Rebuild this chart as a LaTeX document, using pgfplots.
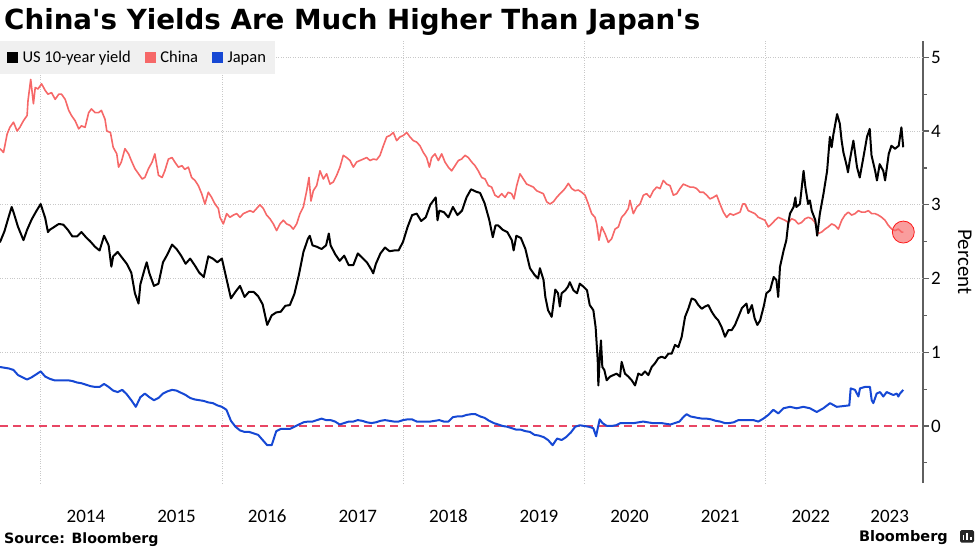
\documentclass[border=0pt]{standalone}
\usepackage{pgfplots}
\pgfplotsset{compat=1.18}
\usepackage{fontspec}
\setmainfont{Carlito}
\newfontfamily\djv{DejaVu Sans}
\definecolor{chinared}{RGB}{246,104,104}
\definecolor{japanblue}{RGB}{22,72,212}
\definecolor{zerored}{RGB}{232,70,100}
\definecolor{gridgray}{RGB}{200,200,200}
\definecolor{axisgray}{RGB}{95,95,95}
\definecolor{legendgray}{RGB}{240,240,240}
\begin{document}
\begin{tikzpicture}[x=1pt,y=1pt]
\useasboundingbox (0,0) rectangle (977,549);
\begin{axis}[
  at={(0pt,66pt)}, anchor=south west, scale only axis,
  width=922.7pt, height=442pt,
  xmin=2013.551, xmax=2023.735, ymin=-0.773, ymax=5.221,
  axis x line*=bottom, axis y line*=right,
  /pgf/number format/assume math mode=true,
  x axis line style={draw=none},
  y axis line style={axisgray, line width=2pt},
  xtick={2014.5,2015.5,2016.5,2017.5,2018.5,2019.5,2020.5,2021.5,2022.5,2023.37},
  xticklabels={2014,2015,2016,2017,2018,2019,2020,2021,2022,2023},
  x tick style={draw=none},
  xticklabel style={font=\fontsize{19}{19}\selectfont, anchor=base, inner sep=0pt, yshift=-33.7pt},
  extra x ticks={2014,2016,2018,2020,2022},
  extra x tick labels={},
  extra x tick style={grid=major, major tick length=0pt},
  x grid style={gridgray, dotted, line width=0.7pt},
  ytick={0,1,2,3,4,5},
  minor ytick={-0.5,0.5,1.5,2.5,3.5,4.5},
  tick align=outside,
  major tick length=6pt, minor tick length=4pt,
  y tick style={axisgray, line width=1.2pt},
  yticklabel style={font=\fontsize{19}{19}\selectfont, anchor=west, xshift=-1pt},
  extra y ticks={1,2,3,4,5},
  extra y tick labels={},
  extra y tick style={grid=major, major tick length=0pt},
  y grid style={gridgray, dotted, line width=0.7pt},
  ylabel={Percent},
  ylabel style={at={(axis description cs:1.0455,0.5)}, anchor=center, rotate=180, font=\fontsize{21}{21}\selectfont},
  legend style={at={(0,1)}, anchor=north west, draw=none, fill=legendgray,
    font=\fontsize{16.5}{16.5}\selectfont, inner xsep=7pt, inner ysep=8pt,
    /tikz/every odd column/.append style={column sep=3pt},
    /tikz/every even column/.append style={column sep=12pt}},
  legend columns=3, legend cell align=left,
  legend image code/.code={\fill[#1] (0pt,-5pt) rectangle (10pt,5pt);},
  clip=false,
]
\addlegendimage{color=black}
\addlegendentry{US 10-year yield}
\addlegendimage{color=chinared}
\addlegendentry{China}
\addlegendimage{color=japanblue}
\addlegendentry{Japan}

\addplot[forget plot, zerored, line width=1.5pt, dash pattern=on 8pt off 5pt] coordinates {(2013.551,0) (2023.735,0)};

% China 10-year
\addplot[forget plot, color=chinared, line width=1.6pt, line join=round] table {
2013.55 3.76
2013.59 3.71
2013.63 3.96
2013.66 4.05
2013.70 4.12
2013.74 4.00
2013.77 4.05
2013.81 4.14
2013.85 4.21
2013.86 4.41
2013.89 4.70
2013.92 4.37
2013.94 4.59
2013.97 4.57
2014.01 4.64
2014.05 4.55
2014.08 4.50
2014.12 4.52
2014.16 4.43
2014.20 4.50
2014.23 4.50
2014.27 4.43
2014.31 4.28
2014.34 4.21
2014.38 4.14
2014.42 4.03
2014.45 4.07
2014.49 4.05
2014.53 4.25
2014.56 4.30
2014.60 4.25
2014.64 4.25
2014.67 4.28
2014.71 4.16
2014.73 4.00
2014.77 3.98
2014.80 3.78
2014.84 3.69
2014.86 3.51
2014.89 3.58
2014.93 3.76
2014.97 3.69
2015.00 3.60
2015.04 3.49
2015.08 3.42
2015.12 3.35
2015.15 3.37
2015.19 3.49
2015.23 3.58
2015.26 3.69
2015.30 3.40
2015.34 3.37
2015.37 3.46
2015.41 3.62
2015.45 3.64
2015.48 3.58
2015.52 3.51
2015.56 3.53
2015.59 3.48
2015.63 3.51
2015.666 3.37
2015.703 3.33
2015.74 3.26
2015.777 3.15
2015.813 3.01
2015.85 3.17
2015.887 3.10
2015.924 3.01
2015.961 2.95
2015.979 2.83
2016.016 2.74
2016.053 2.88
2016.089 2.83
2016.126 2.86
2016.163 2.88
2016.20 2.83
2016.237 2.88
2016.273 2.90
2016.31 2.92
2016.347 2.90
2016.384 2.95
2016.42 3.00
2016.457 2.95
2016.494 2.86
2016.531 2.81
2016.568 2.74
2016.604 2.65
2016.641 2.74
2016.678 2.79
2016.715 2.74
2016.752 2.72
2016.788 2.67
2016.825 2.74
2016.862 2.88
2016.899 2.97
2016.936 3.19
2016.961 3.37
2016.983 3.05
2017.009 3.19
2017.046 3.26
2017.083 3.46
2017.12 3.35
2017.156 3.42
2017.193 3.28
2017.23 3.31
2017.267 3.40
2017.303 3.51
2017.34 3.67
2017.377 3.64
2017.414 3.60
2017.451 3.51
2017.487 3.58
2017.524 3.60
2017.561 3.62
2017.598 3.64
2017.635 3.60
2017.671 3.62
2017.708 3.61
2017.745 3.67
2017.782 3.80
2017.819 3.92
2017.855 3.94
2017.892 3.98
2017.929 3.87
2017.966 3.92
2018.003 3.94
2018.04 3.98
2018.076 3.92
2018.113 3.87
2018.15 3.85
2018.186 3.80
2018.223 3.71
2018.26 3.64
2018.29 3.51
2018.315 3.64
2018.352 3.69
2018.389 3.60
2018.426 3.69
2018.462 3.58
2018.499 3.51
2018.536 3.46
2018.573 3.53
2018.61 3.60
2018.646 3.62
2018.683 3.67
2018.72 3.64
2018.757 3.58
2018.794 3.53
2018.83 3.46
2018.867 3.37
2018.904 3.35
2018.941 3.26
2018.977 3.24
2019.014 3.13
2019.051 3.10
2019.088 3.15
2019.125 3.10
2019.161 3.17
2019.198 3.15
2019.224 3.08
2019.254 3.26
2019.29 3.42
2019.327 3.35
2019.364 3.28
2019.401 3.26
2019.437 3.24
2019.474 3.19
2019.511 3.17
2019.548 3.15
2019.585 3.04
2019.621 3.01
2019.658 3.04
2019.695 3.10
2019.732 3.15
2019.75 3.17
2019.787 3.22
2019.824 3.29
2019.861 3.22
2019.897 3.19
2019.934 3.20
2019.971 3.17
2020.008 3.13
2020.045 3.01
2020.081 2.88
2020.118 2.83
2020.137 2.74
2020.162 2.52
2020.192 2.70
2020.228 2.61
2020.265 2.49
2020.302 2.54
2020.339 2.67
2020.376 2.70
2020.412 2.83
2020.449 2.88
2020.486 2.95
2020.504 3.06
2020.541 2.88
2020.578 2.97
2020.615 3.01
2020.652 3.13
2020.688 3.15
2020.725 3.10
2020.762 3.19
2020.799 3.24
2020.836 3.22
2020.872 3.33
2020.909 3.28
2020.946 3.26
2020.983 3.13
2021.02 3.15
2021.056 3.22
2021.093 3.28
2021.13 3.26
2021.167 3.24
2021.203 3.24
2021.24 3.22
2021.277 3.17
2021.314 3.17
2021.351 3.13
2021.387 3.08
2021.424 3.10
2021.461 3.13
2021.498 3.01
2021.535 2.90
2021.571 2.83
2021.608 2.88
2021.645 2.86
2021.682 2.88
2021.719 2.90
2021.748 3.01
2021.774 3.01
2021.81 2.92
2021.847 2.90
2021.884 2.88
2021.921 2.83
2021.958 2.81
2021.994 2.79
2022.031 2.70
2022.068 2.74
2022.105 2.79
2022.142 2.83
2022.178 2.81
2022.215 2.79
2022.252 2.76
2022.289 2.81
2022.326 2.79
2022.362 2.74
2022.399 2.76
2022.436 2.81
2022.473 2.83
2022.51 2.81
2022.546 2.76
2022.583 2.61
2022.62 2.63
2022.657 2.67
2022.693 2.70
2022.73 2.74
2022.767 2.72
2022.804 2.67
2022.841 2.79
2022.877 2.86
2022.914 2.90
2022.951 2.86
2022.988 2.88
2023.025 2.92
2023.061 2.90
2023.098 2.90
2023.135 2.92
2023.172 2.88
2023.209 2.88
2023.245 2.86
2023.282 2.83
2023.319 2.79
2023.356 2.72
2023.393 2.67
2023.429 2.65
2023.466 2.67
2023.503 2.63
2023.521 2.63
};

% Japan 10-year
\addplot[forget plot, color=japanblue, line width=2pt, line join=round] table {
2013.55 0.80
2013.60 0.79
2013.65 0.78
2013.70 0.76
2013.75 0.69
2013.80 0.66
2013.85 0.63
2013.90 0.66
2013.95 0.70
2014.00 0.74
2014.05 0.67
2014.10 0.64
2014.15 0.62
2014.20 0.62
2014.25 0.62
2014.30 0.62
2014.35 0.61
2014.40 0.59
2014.45 0.58
2014.50 0.56
2014.55 0.54
2014.60 0.53
2014.65 0.53
2014.70 0.57
2014.75 0.53
2014.80 0.48
2014.85 0.46
2014.90 0.49
2014.95 0.43
2015.00 0.35
2015.05 0.26
2015.10 0.39
2015.15 0.44
2015.20 0.39
2015.25 0.35
2015.30 0.38
2015.35 0.44
2015.40 0.47
2015.45 0.49
2015.50 0.48
2015.55 0.45
2015.60 0.42
2015.65 0.38
2015.70 0.36
2015.75 0.35
2015.80 0.34
2015.85 0.32
2015.90 0.31
2015.95 0.28
2016.00 0.26
2016.05 0.22
2016.10 0.07
2016.15 -0.01
2016.20 -0.06
2016.25 -0.08
2016.30 -0.08
2016.35 -0.10
2016.40 -0.12
2016.45 -0.19
2016.50 -0.26
2016.55 -0.26
2016.60 -0.07
2016.65 -0.04
2016.70 -0.04
2016.75 -0.04
2016.80 -0.01
2016.85 0.02
2016.90 0.05
2016.95 0.06
2017.00 0.06
2017.05 0.08
2017.10 0.10
2017.15 0.08
2017.20 0.08
2017.25 0.06
2017.30 0.02
2017.35 0.04
2017.40 0.06
2017.45 0.06
2017.50 0.08
2017.55 0.07
2017.60 0.05
2017.65 0.04
2017.70 0.05
2017.75 0.07
2017.80 0.08
2017.85 0.07
2017.90 0.06
2017.95 0.06
2018.00 0.08
2018.05 0.09
2018.10 0.09
2018.15 0.06
2018.20 0.06
2018.25 0.06
2018.30 0.06
2018.35 0.07
2018.40 0.08
2018.45 0.06
2018.50 0.06
2018.55 0.12
2018.60 0.13
2018.65 0.13
2018.70 0.15
2018.75 0.16
2018.80 0.16
2018.85 0.13
2018.90 0.11
2018.95 0.07
2019.00 0.04
2019.05 0.02
2019.10 0.00
2019.15 -0.01
2019.20 -0.03
2019.25 -0.05
2019.30 -0.05
2019.35 -0.07
2019.40 -0.08
2019.45 -0.12
2019.50 -0.13
2019.55 -0.15
2019.60 -0.19
2019.65 -0.26
2019.70 -0.17
2019.75 -0.19
2019.80 -0.15
2019.85 -0.09
2019.90 -0.01
2019.95 0.01
2020.00 0.00
2020.05 -0.01
2020.10 -0.03
2020.13 -0.14
2020.15 -0.02
2020.17 0.09
2020.20 0.04
2020.25 0.00
2020.30 0.00
2020.35 0.01
2020.40 0.04
2020.45 0.04
2020.50 0.04
2020.55 0.04
2020.60 0.05
2020.65 0.06
2020.70 0.05
2020.75 0.04
2020.80 0.04
2020.85 0.04
2020.90 0.03
2020.95 0.02
2021.00 0.04
2021.05 0.06
2021.10 0.13
2021.13 0.16
2021.17 0.13
2021.25 0.11
2021.30 0.10
2021.35 0.10
2021.40 0.09
2021.45 0.07
2021.50 0.06
2021.55 0.04
2021.60 0.04
2021.65 0.05
2021.70 0.08
2021.792 0.08
2021.866 0.08
2021.921 0.06
2021.976 0.10
2022.031 0.15
2022.086 0.22
2022.142 0.17
2022.197 0.24
2022.27 0.26
2022.344 0.24
2022.418 0.26
2022.491 0.24
2022.565 0.19
2022.638 0.24
2022.712 0.31
2022.785 0.26
2022.859 0.27
2022.925 0.28
2022.94 0.51
2022.988 0.49
2023.025 0.40
2023.043 0.51
2023.098 0.53
2023.153 0.53
2023.172 0.35
2023.19 0.31
2023.227 0.44
2023.264 0.46
2023.30 0.40
2023.337 0.46
2023.374 0.44
2023.411 0.42
2023.448 0.44
2023.466 0.40
2023.484 0.44
2023.521 0.49
};

% US 10-year
\addplot[forget plot, color=black, line width=2pt, line join=round] table {
2013.55 2.49
2013.60 2.64
2013.65 2.85
2013.68 2.97
2013.70 2.90
2013.75 2.70
2013.80 2.55
2013.81 2.52
2013.85 2.66
2013.90 2.80
2013.95 2.91
2014.00 3.01
2014.05 2.82
2014.08 2.63
2014.10 2.66
2014.15 2.70
2014.20 2.74
2014.25 2.73
2014.30 2.66
2014.35 2.57
2014.40 2.57
2014.45 2.63
2014.50 2.56
2014.55 2.50
2014.60 2.43
2014.65 2.38
2014.70 2.58
2014.75 2.45
2014.78 2.16
2014.80 2.30
2014.85 2.36
2014.90 2.28
2014.95 2.20
2015.00 2.08
2015.04 1.80
2015.08 1.66
2015.10 1.92
2015.15 2.14
2015.17 2.22
2015.20 2.07
2015.25 1.90
2015.30 1.93
2015.35 2.22
2015.40 2.33
2015.45 2.46
2015.50 2.40
2015.55 2.31
2015.60 2.20
2015.65 2.27
2015.70 2.18
2015.75 2.08
2015.80 2.02
2015.85 2.30
2015.90 2.27
2015.95 2.22
2016.00 2.27
2016.05 2.00
2016.10 1.73
2016.15 1.82
2016.20 1.90
2016.25 1.75
2016.30 1.82
2016.35 1.82
2016.40 1.76
2016.45 1.65
2016.50 1.37
2016.55 1.50
2016.60 1.54
2016.65 1.55
2016.70 1.63
2016.75 1.64
2016.80 1.79
2016.85 2.05
2016.90 2.36
2016.95 2.54
2016.97 2.58
2017.00 2.45
2017.05 2.43
2017.10 2.40
2017.15 2.45
2017.18 2.61
2017.20 2.45
2017.25 2.33
2017.30 2.24
2017.35 2.31
2017.40 2.18
2017.45 2.18
2017.50 2.34
2017.55 2.28
2017.60 2.22
2017.65 2.12
2017.67 2.07
2017.70 2.20
2017.75 2.34
2017.80 2.42
2017.85 2.37
2017.90 2.38
2017.95 2.38
2018.00 2.50
2018.05 2.70
2018.10 2.86
2018.15 2.88
2018.20 2.78
2018.25 2.83
2018.30 3.00
2018.36 3.10
2018.38 2.79
2018.40 2.92
2018.45 2.90
2018.50 2.83
2018.55 2.97
2018.60 2.86
2018.65 2.92
2018.70 3.10
2018.75 3.21
2018.80 3.18
2018.85 3.16
2018.90 3.02
2018.95 2.80
2018.99 2.56
2019.02 2.72
2019.05 2.72
2019.10 2.66
2019.15 2.63
2019.20 2.52
2019.22 2.38
2019.25 2.58
2019.30 2.55
2019.35 2.40
2019.40 2.14
2019.45 2.05
2019.49 2.00
2019.51 2.14
2019.55 1.98
2019.57 1.75
2019.60 1.57
2019.64 1.48
2019.68 1.85
2019.71 1.80
2019.73 1.62
2019.75 1.80
2019.79 1.84
2019.82 1.89
2019.84 1.95
2019.88 1.84
2019.92 1.80
2019.95 1.93
2019.99 1.89
2020.03 1.84
2020.06 1.64
2020.10 1.57
2020.125 1.34
2020.148 0.89
2020.155 0.55
2020.173 0.98
2020.184 1.16
2020.199 0.80
2020.221 0.76
2020.247 0.62
2020.284 0.67
2020.32 0.69
2020.357 0.71
2020.394 0.67
2020.412 0.87
2020.449 0.71
2020.486 0.67
2020.523 0.62
2020.56 0.55
2020.596 0.71
2020.633 0.69
2020.67 0.74
2020.707 0.69
2020.744 0.80
2020.78 0.85
2020.817 0.92
2020.854 0.94
2020.891 0.92
2020.928 0.98
2020.964 0.98
2021.001 1.10
2021.038 1.07
2021.075 1.21
2021.112 1.48
2021.148 1.59
2021.185 1.73
2021.222 1.71
2021.259 1.64
2021.296 1.59
2021.332 1.62
2021.369 1.64
2021.406 1.55
2021.443 1.48
2021.48 1.43
2021.516 1.34
2021.553 1.21
2021.59 1.30
2021.627 1.30
2021.663 1.37
2021.70 1.48
2021.74 1.60
2021.79 1.66
2021.81 1.53
2021.85 1.64
2021.88 1.46
2021.91 1.37
2021.94 1.43
2021.98 1.62
2022.01 1.80
2022.05 1.84
2022.09 2.02
2022.12 1.98
2022.14 1.75
2022.16 2.16
2022.20 2.38
2022.23 2.52
2022.25 2.74
2022.27 2.88
2022.31 2.97
2022.33 3.10
2022.34 2.97
2022.38 3.01
2022.42 3.46
2022.44 3.24
2022.47 3.01
2022.49 3.06
2022.51 2.92
2022.55 2.79
2022.57 2.58
2022.60 2.88
2022.64 3.15
2022.68 3.46
2022.71 3.92
2022.73 3.78
2022.75 3.96
2022.79 4.23
2022.82 4.10
2022.84 3.87
2022.86 3.71
2022.90 3.51
2022.91 3.44
2022.93 3.60
2022.97 3.87
2023.01 3.51
2023.04 3.37
2023.08 3.64
2023.12 3.92
2023.15 4.03
2023.17 3.67
2023.21 3.46
2023.23 3.33
2023.26 3.55
2023.30 3.46
2023.32 3.33
2023.36 3.69
2023.39 3.80
2023.43 3.76
2023.47 3.80
2023.50 4.05
2023.52 3.78
};

\addplot[forget plot, only marks, mark=*, mark size=11pt,
  mark options={fill=chinared, fill opacity=0.65, draw=red!75!chinared, line width=0.8pt}]
  coordinates {(2023.521,2.63)};
\end{axis}
\node[anchor=base west, inner sep=0pt] at (4,519.5) {\djv\bfseries\fontsize{27.7}{28}\selectfont China\textquotesingle s Yields Are Much Higher Than Japan\textquotesingle s};
\node[anchor=base west, inner sep=0pt] at (4,5.7) {\djv\bfseries\fontsize{14.2}{15}\selectfont Source: Bloomberg};
\node[anchor=base east, inner sep=0pt] at (948,7.5) {\djv\bfseries\fontsize{14.5}{15}\selectfont Bloomberg};
\fill[black!85, rounded corners=1.5pt] (960,6.3) rectangle (974,18.8);
\fill[white] (962.6,8.8) rectangle (964.3,13.8);
\fill[white] (966.2,8.8) rectangle (967.9,16.5);
\fill[white] (969.8,8.8) rectangle (971.5,11.8);
\end{tikzpicture}
\end{document}
